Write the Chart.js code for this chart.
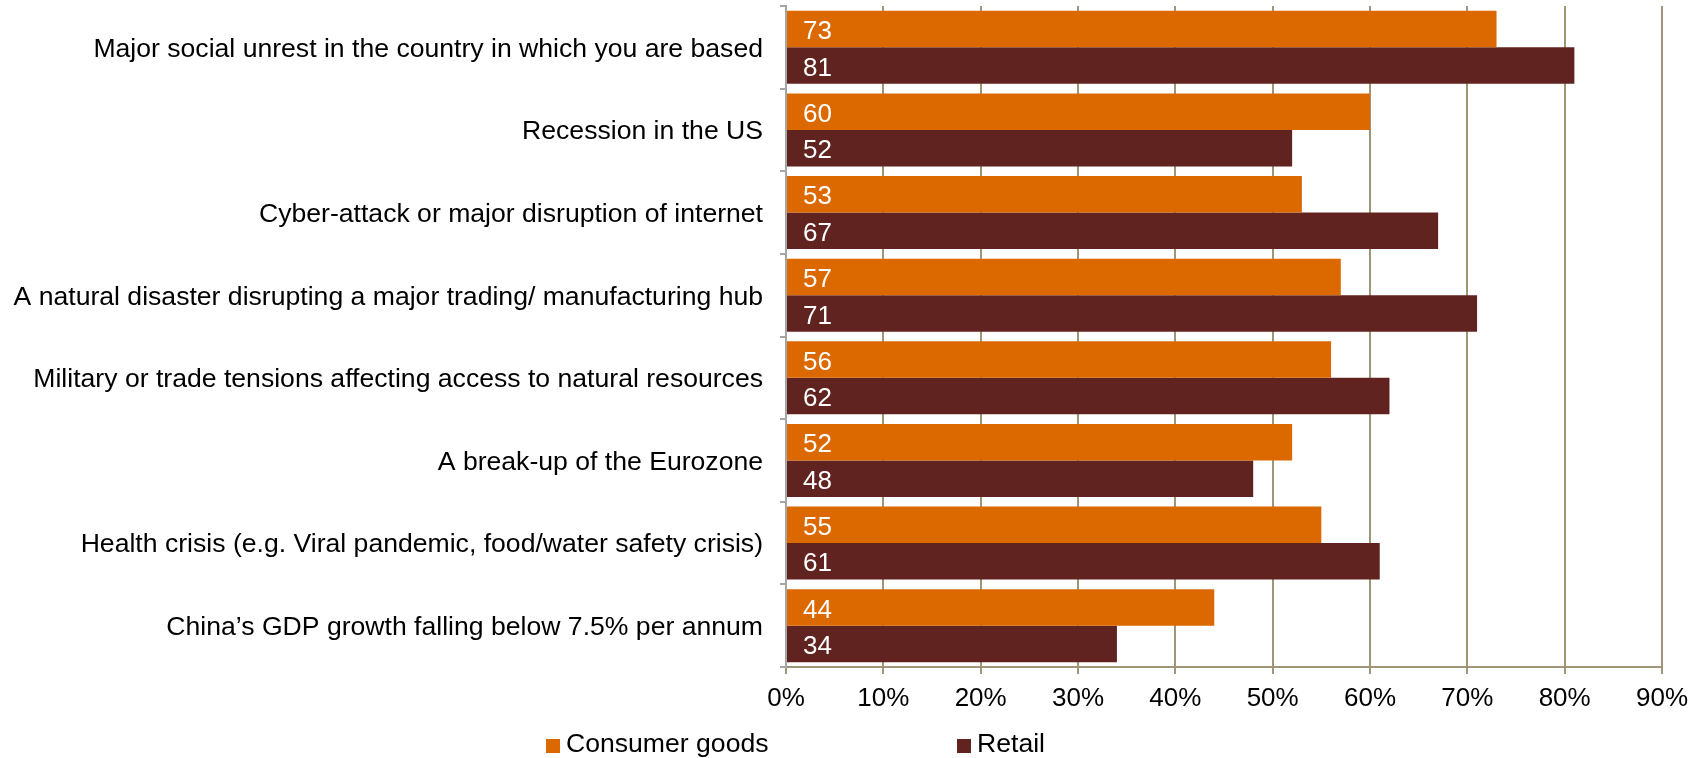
<!DOCTYPE html>
<html>
<head>
<meta charset="utf-8">
<script src="https://cdn.jsdelivr.net/npm/chart.js@4/dist/chart.umd.min.js"></script>
<style>
    html, body { margin: 0; padding: 0; background: #fff; }
    #wrap { width: 1705px; height: 758px; position: relative; }
</style>
</head>
<body>
<div id="wrap"><canvas id="j_riscos"></canvas></div>
<script>
var categorias = [
    "Major social unrest in the country in which you are based",
    "Recession in the US",
    "Cyber-attack or major disruption of internet",
    "A natural disaster disrupting a major trading/ manufacturing hub",
    "Military or trade tensions affecting access to natural resources",
    "A break-up of the Eurozone",
    "Health crisis (e.g. Viral pandemic, food/water safety crisis)",
    "China\u2019s GDP growth falling below 7.5% per annum"
];
var consumerGoods = [73, 60, 53, 57, 56, 52, 55, 44];
var retail = [81, 52, 67, 71, 62, 48, 61, 34];
var ticksX = [0, 10, 20, 30, 40, 50, 60, 70, 80, 90];

var laranja = "#DC6900";
var vinho = "#602320";
var fonte = "'Liberation Sans', Arial, sans-serif";

// valores dentro das barras, alinhados a esquerda
var rotulos = {
    id: "rotulos",
    afterDatasetsDraw: function (chart) {
        var ctx = chart.ctx;
        ctx.save();
        ctx.fillStyle = "#ffffff";
        ctx.font = "26px " + fonte;
        ctx.textBaseline = "middle";
        ctx.textAlign = "left";
        chart.data.datasets.forEach(function (ds, i) {
            chart.getDatasetMeta(i).data.forEach(function (bar, j) {
                ctx.fillText(String(ds.data[j]), bar.base + 16, bar.y + 3);
            });
        });
        ctx.restore();
    },
};

// legenda desenhada a mao
var legenda = {
    id: "legenda",
    afterDraw: function (chart) {
        var ctx = chart.ctx;
        var pos = [546, 957];
        ctx.save();
        ctx.font = "26.6px " + fonte;
        ctx.textBaseline = "middle";
        ctx.textAlign = "left";
        chart.data.datasets.forEach(function (ds, i) {
            ctx.fillStyle = ds.backgroundColor;
            ctx.fillRect(pos[i], 739, 14, 14);
            ctx.fillStyle = "#000000";
            ctx.fillText(ds.label, pos[i] + 20, 745);
        });
        ctx.restore();
    },
};

new Chart(document.getElementById("j_riscos"), {
    type: "bar",
    data: {
        labels: categorias,
        datasets: [
            {
                label: "Consumer goods",
                data: consumerGoods,
                backgroundColor: laranja,
                borderWidth: 0,
            },
            {
                label: "Retail",
                data: retail,
                backgroundColor: vinho,
                borderWidth: 0,
            },
        ],
    },
    options: {
        indexAxis: "y",
        responsive: true,
        maintainAspectRatio: false,
        animation: false,
        layout: {
            padding: { top: 6, right: 43, left: 0, bottom: 0 },
        },
        categoryPercentage: 0.884,
        barPercentage: 1.0,
        scales: {
            x: {
                min: 0,
                max: 90,
                afterBuildTicks: function (axis) {
                    axis.ticks = ticksX.map(function (v) {
                        return { value: v };
                    });
                },
                afterFit: function (axis) {
                    axis.height = 91;
                },
                grid: {
                    color: "#9F9577",
                    lineWidth: 2,
                    tickLength: 7,
                },
                border: { color: "#9F9577", width: 2 },
                ticks: {
                    color: "#000000",
                    padding: 9,
                    font: { family: fonte, size: 26 },
                    callback: function (value) {
                        return value + "%";
                    },
                },
            },
            y: {
                afterFit: function (axis) {
                    axis.width = 786;
                    axis.paddingTop = 0;
                    axis.paddingBottom = 0;
                },
                grid: {
                    drawOnChartArea: false,
                    color: "#A6A6A6",
                    lineWidth: 2,
                    tickLength: 6,
                },
                border: { color: "#A6A6A6", width: 2 },
                ticks: {
                    color: "#000000",
                    padding: 17,
                    labelOffset: 2,
                    autoSkip: false,
                    font: { family: fonte, size: 26.6 },
                },
            },
        },
        plugins: {
            legend: { display: false },
            tooltip: { enabled: false },
        },
    },
    plugins: [rotulos, legenda],
});
</script>
</body>
</html>
